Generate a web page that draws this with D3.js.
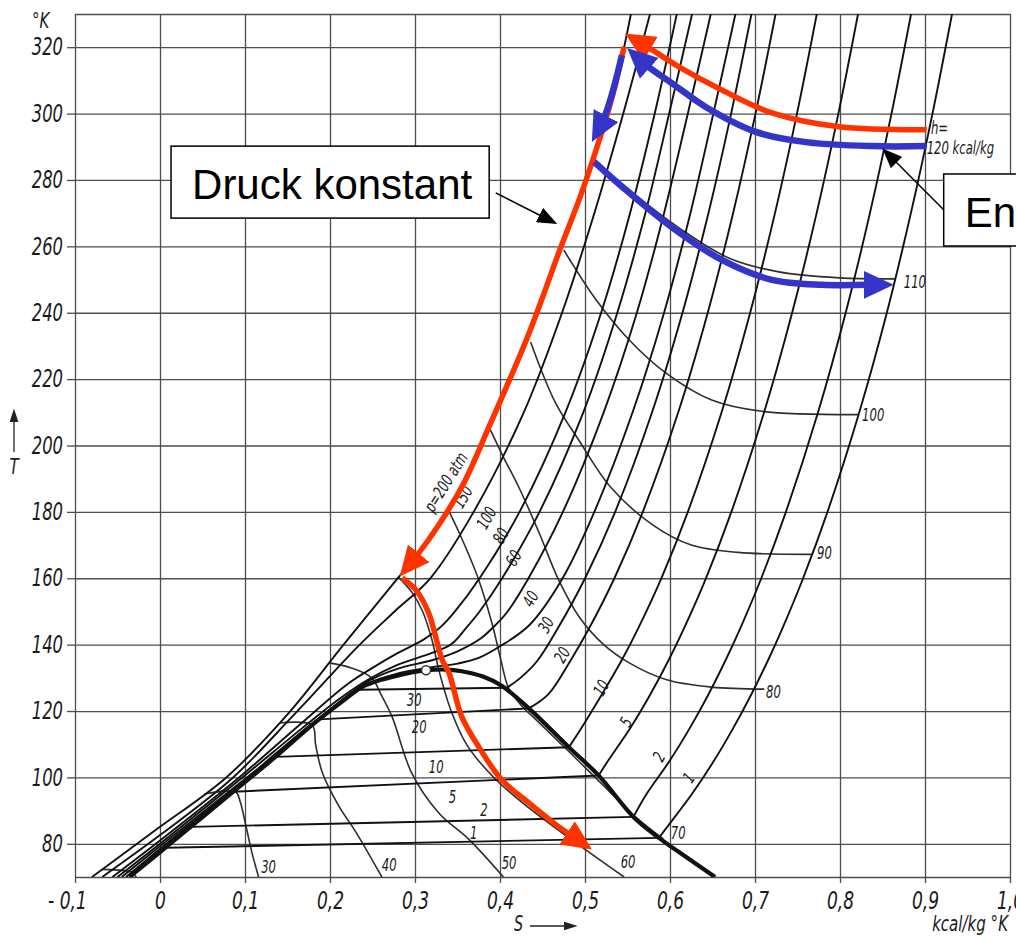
<!DOCTYPE html>
<html>
<head>
<meta charset="utf-8">
<script src="https://cdn.jsdelivr.net/npm/d3@7"></script>
<style>
    body { margin: 0; background: #fff; }
    .lbl { font-family: "Liberation Sans Narrow", "DejaVu Sans Condensed", "Liberation Sans", sans-serif; font-style: italic; fill: #1a1a1a; }
    .box { font-family: "Liberation Sans", Arial, sans-serif; fill: #000; }
</style>
</head>
<body>
<div id="chart"></div>
<script>
const width = 1016;
const height = 936;

// axis ticks
const sTicks = [-0.1, 0, 0.1, 0.2, 0.3, 0.4, 0.5, 0.6, 0.7, 0.8, 0.9, 1.0];
const sTickLabels = ["- 0,1", "0", "0,1", "0,2", "0,3", "0,4", "0,5", "0,6", "0,7", "0,8", "0,9", "1,0"];
const tTicks = [80, 100, 120, 140, 160, 180, 200, 220, 240, 260, 280, 300, 320];

// isobars [s kcal/kg K, T K]
const p200 = [[-0.080, 70], [-0.006, 84], [0.078, 100], [0.150, 119], [0.216, 140], [0.281, 160.4], [0.316, 171.6], [0.355, 187.5], [0.387, 205.6], [0.431, 231.8], [0.449, 243.9], [0.469, 258], [0.493, 274], [0.513, 289], [0.531, 304], [0.546, 320], [0.554, 330]];
const p150 = [[-0.068, 70], [0.002, 83], [0.086, 100], [0.158, 119], [0.235, 140], [0.276, 150], [0.318, 160], [0.369, 180], [0.428, 210], [0.473, 240], [0.511, 270], [0.545, 300], [0.5765, 330]];
const p100 = [[-0.056, 70], [0.000, 81], [0.093, 100], [0.165, 116], [0.220, 128], [0.250, 133], [0.280, 137.5], [0.310, 141.5], [0.331, 145.5], [0.347, 150], [0.376, 160], [0.423, 180], [0.477, 210], [0.519, 240], [0.553, 270], [0.582, 300], [0.608, 330]];
const p80 = [[-0.050, 70], [0.000, 80], [0.097, 100], [0.168, 115], [0.210, 123.5], [0.245, 129.5], [0.280, 134], [0.320, 137.5], [0.343, 140.2], [0.360, 145], [0.376, 150], [0.4025, 160], [0.4465, 180], [0.498, 210], [0.538, 240], [0.571, 270], [0.599, 300], [0.626, 330]];
const p60 = [[-0.045, 70], [0.000, 79.3], [0.100, 99.5], [0.170, 113.5], [0.205, 121.5], [0.245, 129], [0.280, 132.8], [0.320, 135.3], [0.350, 138], [0.378, 142], [0.395, 146], [0.409, 150], [0.4335, 160], [0.474, 180], [0.522, 210], [0.561, 240], [0.593, 270], [0.621, 300], [0.648, 330]];
const p40 = [[-0.040, 70], [0.000, 78.5], [0.103, 100], [0.180, 116.5], [0.243, 128], [0.280, 131.3], [0.320, 133.2], [0.350, 134.3], [0.375, 136], [0.400, 139.5], [0.435, 146], [0.4736, 160], [0.511, 180], [0.556, 210], [0.593, 240], [0.624, 270], [0.651, 300], [0.677, 330]];
const p30 = [[0.408, 127.0], [0.424, 130], [0.4435, 135], [0.4682, 145], [0.5001, 160], [0.5355, 180], [0.5789, 210], [0.6147, 240], [0.6452, 270], [0.6719, 300], [0.6958, 330]];
const p20 = [[0.434, 120.8], [0.4567, 125], [0.4825, 135], [0.505, 145], [0.5346, 160], [0.568, 180], [0.6097, 210], [0.6444, 240], [0.6742, 270], [0.7006, 300], [0.7242, 330]];
const p10 = [[0.481, 109.1], [0.496, 115], [0.5198, 125], [0.5425, 135], [0.5627, 145], [0.5898, 160], [0.621, 180], [0.6607, 210], [0.6943, 240], [0.7235, 270], [0.7494, 300], [0.7727, 330]];
const p5 = [[0.516, 100.6], [0.5271, 105], [0.5535, 115], [0.5768, 125], [0.5977, 135], [0.6166, 145], [0.6423, 160], [0.6722, 180], [0.7107, 210], [0.7437, 240], [0.7725, 270], [0.7981, 300], [0.8212, 330]];
const p2 = [[0.557, 88.1], [0.5724, 95], [0.5996, 105], [0.6236, 115], [0.6452, 125], [0.6648, 135], [0.6828, 145], [0.7074, 160], [0.7364, 180], [0.7742, 210], [0.8067, 240], [0.8352, 270], [0.8606, 300], [0.8836, 330]];
const p1 = [[0.587, 81.8], [0.5964, 85], [0.6258, 95], [0.6517, 105], [0.6747, 115], [0.6956, 125], [0.7148, 135], [0.7324, 145], [0.7566, 160], [0.7853, 180], [0.8227, 210], [0.8551, 240], [0.8834, 270], [0.9088, 300], [0.9318, 330]];

// isobars inside the two-phase region
const wet30 = [[0.233, 126.4], [0.408, 127.0]];
const wet20 = [[0.187, 117.5], [0.434, 120.8]];
const wet10 = [[0.136, 106.2], [0.481, 109.1]];
const wet5 = [[0.086, 95.7], [0.516, 100.6]];
const wet2 = [[0.036, 85.1], [0.557, 88.1]];
const wet1 = [[0.006, 78.8], [0.587, 81.8]];

// saturation curve
const satLiquid = [[-0.036, 70], [-0.001, 77.3], [0.045, 87], [0.089, 96.3], [0.135, 106], [0.179, 115.8], [0.215, 123], [0.238, 127.3], [0.260, 129.4], [0.278, 130.6], [0.296, 131.6], [0.313, 132.3]];
const satVapor = [[0.313, 132.3], [0.335, 132.5], [0.355, 132.0], [0.380, 130.4], [0.402, 127.6], [0.434, 120.8], [0.481, 109.1], [0.516, 100.6], [0.557, 88.1], [0.587, 81.8], [0.619, 76.0], [0.653, 70]];
const critical = [0.313, 132.3];

// isenthalps, kcal/kg
const h20 = [[-0.068, 72.3], [-0.045, 72.0], [-0.033, 71.4], [-0.028, 70]];
const h30 = [[0.052, 95.0], [0.089, 95.6], [0.094, 93.0], [0.101, 85.5], [0.108, 77.5], [0.116, 70]];
const h40 = [[0.141, 116.4], [0.179, 115.8], [0.183, 110], [0.191, 101.4], [0.211, 91.1], [0.231, 83.3], [0.261, 70]];
const h50 = [[0.199, 134.5], [0.225, 133], [0.249, 130], [0.260, 125], [0.273, 118.3], [0.296, 101.4], [0.328, 89.3], [0.364, 81.2], [0.404, 70]];
const h60 = [[0.281, 160.2], [0.296, 155.9], [0.309, 150], [0.320, 141.4], [0.328, 132.4], [0.342, 120.4], [0.361, 109.8], [0.393, 99.9], [0.434, 90.8], [0.473, 83.3], [0.546, 70]];
const h70 = [[0.338, 181.2], [0.352, 173.7], [0.375, 159.5], [0.391, 146], [0.401, 135.4], [0.410, 127], [0.424, 122], [0.446, 116.5], [0.481, 107.8], [0.520, 98], [0.560, 88], [0.592, 81.5]];
const h80 = [[0.387, 205.6], [0.405, 196], [0.422, 187.5], [0.446, 173.7], [0.469, 159.5], [0.493, 148.4], [0.522, 140], [0.552, 134.5], [0.595, 129.5], [0.649, 127.2], [0.711, 126.6]];
const h90 = [[0.436, 231.2], [0.465, 213], [0.493, 201.5], [0.530, 187.5], [0.580, 176], [0.625, 170], [0.680, 167.8], [0.767, 167.2]];
const h100 = [[0.475, 258.9], [0.513, 243.9], [0.552, 231.8], [0.595, 221.9], [0.649, 213.7], [0.708, 210.3], [0.822, 209.3]];
const h110 = [[0.510, 286.5], [0.552, 277], [0.611, 265.5], [0.669, 256.5], [0.728, 252.3], [0.799, 250.5], [0.865, 250.2]];
const h120 = [[0.552, 319.2], [0.575, 314], [0.602, 309.2], [0.642, 302], [0.701, 294.5], [0.760, 291.4], [0.838, 290.2], [0.902, 290.2]];

// hand-drawn process arrows on top of the chart
const redTop = [[0.902, 295.1], [0.799, 296], [0.720, 300.2], [0.661, 307.1], [0.611, 314], [0.579, 319.2], [0.559, 322.3]];
const redDown = [[0.546, 320.1], [0.531, 304.1], [0.513, 289], [0.493, 274], [0.469, 258], [0.449, 243.9], [0.431, 231.8], [0.387, 205.6], [0.355, 187.5], [0.316, 171.6], [0.291, 163.3]];
const redThrottle = [[0.285, 160.1], [0.301, 156.5], [0.316, 149.6], [0.332, 135.4], [0.340, 131.5], [0.355, 118.3], [0.375, 109.2], [0.402, 99.3], [0.434, 92.3], [0.466, 85.7], [0.4965, 80.3]];
const blueTop = [[0.902, 290.2], [0.838, 290.2], [0.760, 291.4], [0.701, 294.5], [0.642, 302], [0.602, 309.2], [0.575, 314], [0.560, 317.3]];
const blueShort = [[0.5435, 317.6], [0.533, 307], [0.523, 299], [0.5147, 294.6]];
const blueMid = [[0.511, 285.4], [0.544, 277.9], [0.602, 265.8], [0.661, 255.9], [0.720, 249.9], [0.779, 248.4], [0.831, 248.4], [0.849, 248.4]];

// curve labels: text, s, T
const isobarLabels = [["p=200 atm", 0.336, 189.0], ["150", 0.356, 184.5], ["100", 0.384, 178.2], ["80", 0.401, 172.8], ["60", 0.416, 166.1], ["40", 0.436, 153.8], ["30", 0.454, 146], ["20", 0.473, 136.9], ["10", 0.519, 127], ["5", 0.548, 116.7], ["2", 0.587, 106.2], ["1", 0.622, 99.9]];
const wetLabels = [["30", 0.299, 123.4], ["20", 0.305, 115.2], ["10", 0.325, 103.2], ["5", 0.344, 94.2], ["2", 0.381, 90.2], ["1", 0.369, 83.3]];
const enthalpyLabels = [["30", 0.119, 73.1], ["40", 0.261, 73.7], ["50", 0.402, 74.3], ["60", 0.542, 74.6], ["70", 0.601, 83.3], ["80", 0.713, 125.8], ["90", 0.773, 167.7], ["100", 0.826, 209.2], ["110", 0.875, 249.3], ["h=", 0.907, 295.7], ["120 kcal/kg", 0.902, 289.6]];

// callout boxes: text, box corner (s, T), arrow start, arrow end
const callouts = [
    ["Druck konstant", [0.013, 290.2], [0.395, 276.1], [0.459, 267.8]],
    ["Enthalpie konstant", [0.922, 281.8], [0.922, 271.0], [0.8565, 287.8]]
];

const svg = d3.select("#chart")
    .append("svg")
    .attr("width", width)
    .attr("height", height);

svg.append("rect").attr("width", width).attr("height", height).attr("fill", "#fff");

const x = d3.scaleLinear().domain([-0.1, 1.0]).range([75, 1010]);
const y = d3.scaleLinear().domain([70, 330]).range([877, 14]);

const smooth = d3.line()
    .x(d => x(d[0]))
    .y(d => y(d[1]))
    .curve(d3.curveCatmullRom.alpha(0.5));

const straight = d3.line().x(d => x(d[0])).y(d => y(d[1]));

const defs = svg.append("defs");
defs.append("clipPath").attr("id", "plot")
    .append("rect")
    .attr("x", x(-0.1))
    .attr("y", y(330))
    .attr("width", x(1.0) - x(-0.1))
    .attr("height", y(70) - y(330));

function arrowMarker(id, color, len, wid) {
    defs.append("marker")
        .attr("id", id)
        .attr("viewBox", `0 0 ${len} ${wid}`)
        .attr("refX", len * 0.6)
        .attr("refY", wid / 2)
        .attr("markerWidth", len)
        .attr("markerHeight", wid)
        .attr("markerUnits", "userSpaceOnUse")
        .attr("orient", "auto")
        .append("path")
        .attr("d", `M0,0L${len},${wid / 2}L0,${wid}Z`)
        .attr("fill", color);
}
const red = "#ff3300";
const blue = "#3434c8";
arrowMarker("arRed", red, 30, 28);
arrowMarker("arBlue", blue, 30, 28);
arrowMarker("arBlack", "#000", 20, 16);
arrowMarker("arSmall", "#222", 14, 9);

// grid
const gridColor = "#4d4d4d";
svg.append("g")
    .attr("transform", `translate(0,${y(70)})`)
    .call(d3.axisBottom(x).tickValues(sTicks).tickSize(-(y(70) - y(330))).tickFormat(""))
    .call(g => g.select(".domain").remove())
    .selectAll("line").attr("stroke", gridColor).attr("stroke-width", 1.3);

svg.append("g")
    .attr("transform", `translate(${x(-0.1)},0)`)
    .call(d3.axisLeft(y).tickValues([70].concat(tTicks, [330])).tickSize(-(x(1.0) - x(-0.1))).tickFormat(""))
    .call(g => g.select(".domain").remove())
    .selectAll("line").attr("stroke", gridColor).attr("stroke-width", 1.3);

const xAxis = svg.append("g")
    .attr("transform", `translate(0,${y(70)})`)
    .call(d3.axisBottom(x).tickValues(sTicks).tickSize(6).tickPadding(8)
        .tickFormat((d, i) => sTickLabels[i]));
xAxis.select(".domain").remove();
xAxis.selectAll("line").attr("stroke", gridColor).attr("stroke-width", 1.3);
xAxis.selectAll("text").attr("class", "lbl").attr("font-size", 25)
    .attr("dx", (d, i) => i === 0 ? -8 : 0);

const yAxis = svg.append("g")
    .attr("transform", `translate(${x(-0.1)},0)`)
    .call(d3.axisLeft(y).tickValues(tTicks).tickSize(8).tickPadding(4));
yAxis.select(".domain").remove();
yAxis.selectAll("line").attr("stroke", gridColor).attr("stroke-width", 1.3);
yAxis.selectAll("text").attr("class", "lbl").attr("font-size", 24);

// chart curves
const plot = svg.append("g").attr("clip-path", "url(#plot)");

const enthalpies = [h20, h30, h40, h50, h60, h70, h80, h90, h100, h110, h120];
plot.selectAll("path.h")
    .data(enthalpies)
    .enter()
    .append("path")
    .attr("class", "h")
    .attr("d", smooth)
    .attr("fill", "none")
    .attr("stroke", "#2e2e2e")
    .attr("stroke-width", 1.6);

const isobars = [p200, p150, p100, p80, p60, p40, p30, p20, p10, p5, p2, p1];
plot.selectAll("path.p")
    .data(isobars)
    .enter()
    .append("path")
    .attr("class", "p")
    .attr("d", smooth)
    .attr("fill", "none")
    .attr("stroke", "#111")
    .attr("stroke-width", 1.9);

plot.selectAll("path.wet")
    .data([wet30, wet20, wet10, wet5, wet2, wet1])
    .enter()
    .append("path")
    .attr("class", "wet")
    .attr("d", straight)
    .attr("fill", "none")
    .attr("stroke", "#111")
    .attr("stroke-width", 1.9);

plot.selectAll("path.sat")
    .data([satLiquid, satVapor])
    .enter()
    .append("path")
    .attr("class", "sat")
    .attr("d", smooth)
    .attr("fill", "none")
    .attr("stroke", "#111")
    .attr("stroke-width", 4.2);

plot.append("circle")
    .attr("cx", x(critical[0]))
    .attr("cy", y(critical[1]))
    .attr("r", 4.5)
    .attr("fill", "#fff")
    .attr("stroke", "#333")
    .attr("stroke-width", 1.4);

// labels on the curves
svg.selectAll("text.pl")
    .data(isobarLabels)
    .enter()
    .append("text")
    .attr("class", "lbl")
    .attr("font-size", 17)
    .attr("text-anchor", "middle")
    .attr("dominant-baseline", "central")
    .attr("transform", (d, i) => `translate(${x(d[1])},${y(d[2])}) rotate(${i === 0 ? -58 : (i > 10 ? -55 : -60)})`)
    .text(d => d[0]);

svg.selectAll("text.wl")
    .data(wetLabels)
    .enter()
    .append("text")
    .attr("class", "lbl")
    .attr("font-size", 17)
    .attr("text-anchor", "middle")
    .attr("dominant-baseline", "central")
    .attr("x", d => x(d[1]))
    .attr("y", d => y(d[2]))
    .text(d => d[0]);

svg.selectAll("text.hl")
    .data(enthalpyLabels)
    .enter()
    .append("text")
    .attr("class", "lbl")
    .attr("font-size", 17)
    .attr("dominant-baseline", "central")
    .attr("x", d => x(d[1]))
    .attr("y", d => y(d[2]))
    .text(d => d[0]);

// axis titles
svg.append("text").attr("class", "lbl").attr("font-size", 22)
    .attr("x", 32).attr("y", 28).text("°K");
svg.append("text").attr("class", "lbl").attr("font-size", 22)
    .attr("x", 14).attr("y", 474).attr("text-anchor", "middle").text("T");
svg.append("line").attr("x1", 14).attr("x2", 14).attr("y1", 452).attr("y2", 414)
    .attr("stroke", "#222").attr("stroke-width", 1.3).attr("marker-end", "url(#arSmall)");
svg.append("text").attr("class", "lbl").attr("font-size", 21)
    .attr("x", 514).attr("y", 931).text("S");
svg.append("line").attr("x1", 530).attr("x2", 572).attr("y1", 926).attr("y2", 926)
    .attr("stroke", "#222").attr("stroke-width", 1.3).attr("marker-end", "url(#arSmall)");
svg.append("text").attr("class", "lbl").attr("font-size", 22)
    .attr("x", 1008).attr("y", 931).attr("text-anchor", "end").text("kcal/kg °K");

// the chart's lettering is a narrow italic: squeeze the fallback font
svg.selectAll("text.lbl").each(function () {
    const len = this.getComputedTextLength();
    d3.select(this).attr("textLength", len * 0.76).attr("lengthAdjust", "spacingAndGlyphs");
});

// process arrows
const annot = svg.append("g");
annot.selectAll("path.red")
    .data([redTop, redDown, redThrottle])
    .enter()
    .append("path")
    .attr("d", smooth)
    .attr("fill", "none")
    .attr("stroke", red)
    .attr("stroke-width", 5.5)
    .attr("marker-end", "url(#arRed)");

annot.selectAll("path.blue")
    .data([blueTop, blueShort, blueMid])
    .enter()
    .append("path")
    .attr("d", smooth)
    .attr("fill", "none")
    .attr("stroke", blue)
    .attr("stroke-width", 6.5)
    .attr("marker-end", "url(#arBlue)");

// callout boxes
callouts.forEach(c => {
    const bx = x(c[1][0]);
    const by = y(c[1][1]);
    annot.append("line")
        .attr("x1", x(c[2][0])).attr("y1", y(c[2][1]))
        .attr("x2", x(c[3][0])).attr("y2", y(c[3][1]))
        .attr("stroke", "#000").attr("stroke-width", 1.5)
        .attr("marker-end", "url(#arBlack)");
    const box = annot.append("rect")
        .attr("x", bx).attr("y", by).attr("height", 72)
        .attr("fill", "#fff").attr("stroke", "#000").attr("stroke-width", 1.5);
    const t = annot.append("text")
        .attr("class", "box")
        .attr("font-size", 42)
        .attr("x", bx + 21)
        .attr("y", by + 53)
        .text(c[0]);
    box.attr("width", t.node().getComputedTextLength() + 38);
});
</script>
</body>
</html>
